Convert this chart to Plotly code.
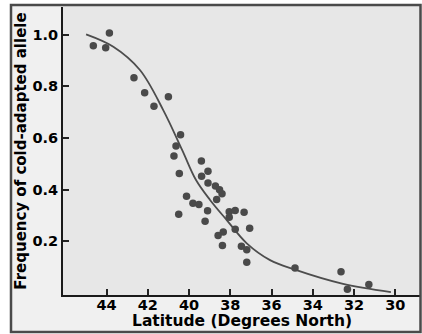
import plotly.graph_objects as go

# Observed populations: latitude (degrees north) and allele frequency
lat = [44.64, 44.04, 43.86, 42.67, 42.15, 41.70, 41.00, 40.41, 40.63, 40.73,
       39.40, 40.47, 39.08, 39.39, 39.08, 38.72, 38.52, 38.40, 38.66, 40.12,
       39.81, 39.52, 40.50, 39.10, 39.22, 38.05, 37.76, 37.33, 38.05, 37.76,
       37.06, 38.34, 38.59, 38.38, 37.46, 37.20, 37.20, 34.86, 32.63, 32.32,
       31.28]
freq = [0.957, 0.949, 1.006, 0.833, 0.775, 0.723, 0.760, 0.612, 0.569, 0.530,
        0.511, 0.462, 0.471, 0.452, 0.426, 0.414, 0.399, 0.384, 0.362, 0.374,
        0.347, 0.342, 0.305, 0.318, 0.278, 0.314, 0.319, 0.312, 0.293, 0.247,
        0.250, 0.236, 0.222, 0.184, 0.181, 0.167, 0.119, 0.097, 0.082, 0.014,
        0.033]

# Fitted cline, sampled from the drawn curve
curve_lat = [44.99, 43.67, 42.38, 41.25, 40.33, 39.66, 38.98, 38.17, 37.20,
             36.07, 34.90, 32.58, 30.21]
curve_freq = [1.001, 0.953, 0.863, 0.708, 0.553, 0.437, 0.360, 0.282, 0.192,
              0.127, 0.091, 0.036, 0.003]

x_ticks = [44, 42, 40, 38, 36, 34, 32, 30]
y_ticks = [0.2, 0.4, 0.6, 0.8, 1.0]

FONT = "DejaVu Sans, Liberation Sans, Arial, sans-serif"

fig = go.Figure()
fig.add_trace(go.Scatter(x=curve_lat, y=curve_freq, mode="lines",
                         line=dict(color="#4d4d4d", width=1.8, shape="spline", smoothing=1.0),
                         hoverinfo="skip", showlegend=False))
fig.add_trace(go.Scatter(x=lat, y=freq, mode="markers",
                         marker=dict(color="#4a4a4a", size=7.5, line=dict(width=0)),
                         showlegend=False))

W, H = 422, 334
ml, mr, mt, mb = 63, 2, 7, 39
pw, ph = W - ml - mr, H - mt - mb

def px2paper_x(px):
    return (px - ml) / pw

def py2paper_y(py):
    return (H - mb - py) / ph

shapes = [
    # outer frame fill
    dict(type="rect", xref="paper", yref="paper",
         x0=px2paper_x(11), x1=px2paper_x(420.5),
         y0=py2paper_y(332), y1=py2paper_y(5),
         fillcolor="#f0f0f0", line=dict(width=0), layer="below"),
    # plot area fill
    dict(type="rect", xref="paper", yref="paper",
         x0=0, x1=px2paper_x(420.5), y0=0, y1=py2paper_y(5),
         fillcolor="#e7e7e7", line=dict(width=0), layer="below"),
    # frame border
    dict(type="rect", xref="paper", yref="paper",
         x0=px2paper_x(11), x1=px2paper_x(420.5),
         y0=py2paper_y(332), y1=py2paper_y(5),
         fillcolor="rgba(0,0,0,0)", line=dict(color="#4a4a4a", width=2.5), layer="above"),
]

annotations = [
    dict(text="Latitude (Degrees North)", xref="paper", yref="paper",
         x=0.5, y=py2paper_y(320.5), xanchor="center", yanchor="middle",
         showarrow=False, font=dict(size=15.5, family=FONT, weight="bold", color="black")),
]

fig.update_layout(
    width=W, height=H,
    margin=dict(l=ml, r=mr, t=mt, b=mb, autoexpand=False),
    paper_bgcolor="white", plot_bgcolor="rgba(0,0,0,0)",
    font=dict(family=FONT, color="black"),
    shapes=shapes, annotations=annotations,
    xaxis=dict(range=[46.11, 28.80], tickvals=x_ticks, ticktext=[str(v) for v in x_ticks],
               ticks="inside", ticklen=6, tickwidth=1.5, tickcolor="#222",
               showline=True, linecolor="#1a1a1a", linewidth=2, mirror=False,
               showgrid=False, zeroline=False, automargin=False,
               ticklabelstandoff=-4,
               tickfont=dict(size=14.5, family=FONT, weight="bold")),
    yaxis=dict(range=[-0.008, 1.107], tickvals=y_ticks, ticktext=["0.2", "0.4", "0.6", "0.8", "1.0"],
               ticks="inside", ticklen=6, tickwidth=1.5, tickcolor="#222",
               showline=True, linecolor="#1a1a1a", linewidth=2,
               showgrid=False, zeroline=False, automargin=False,
               tickfont=dict(size=14.5, family=FONT, weight="bold"),
               title=dict(text="Frequency of cold-adapted allele", standoff=2,
                          font=dict(size=15, family=FONT, weight="bold"))),
)

fig.write_html("out.html", config={"displayModeBar": False},
               post_script="document.body.style.margin='0';document.body.style.overflow='hidden';")
